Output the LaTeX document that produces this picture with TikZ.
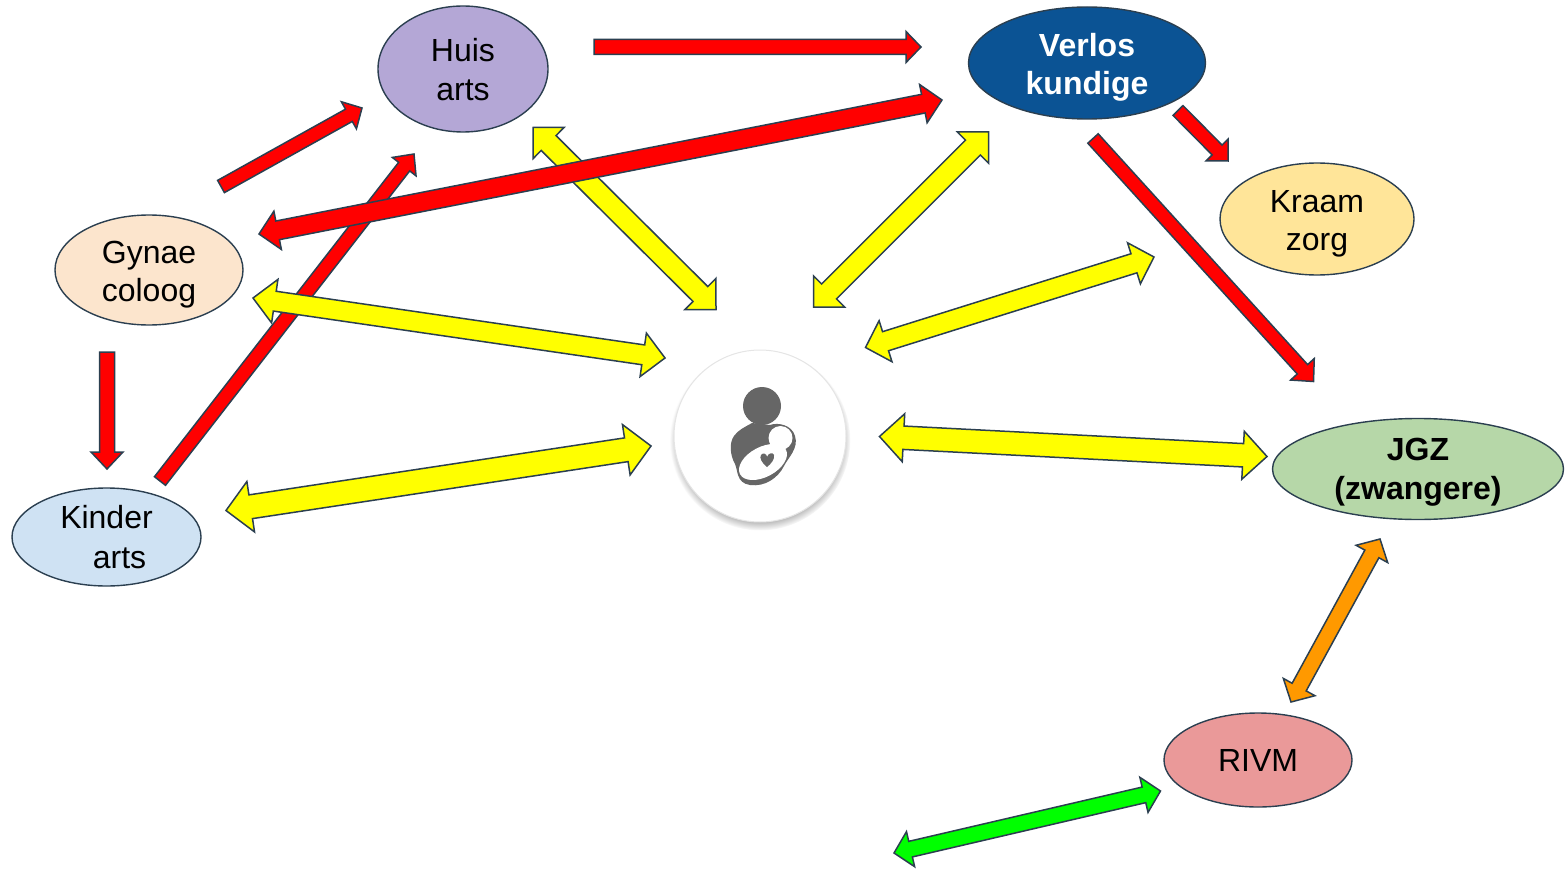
\documentclass[tikz,border=0pt]{standalone}
\usepackage{fontspec}
\setmainfont{Liberation Sans}
\usetikzlibrary{calc,shapes.geometric,shadows}

\definecolor{edgeblue}{HTML}{2B3F50}
\definecolor{huisfill}{HTML}{B4A7D6}
\definecolor{verlosfill}{HTML}{0B5394}
\definecolor{kraamfill}{HTML}{FFE599}
\definecolor{gynaefill}{HTML}{FCE5CD}
\definecolor{kinderfill}{HTML}{CFE2F3}
\definecolor{jgzfill}{HTML}{B6D7A8}
\definecolor{rivmfill}{HTML}{EA9999}
\definecolor{iconfill}{HTML}{666666}
\definecolor{arrowred}{HTML}{FF0000}
\definecolor{arrowyellow}{HTML}{FFFF00}
\definecolor{arrowgreen}{HTML}{00FF00}
\definecolor{arroworange}{HTML}{FF9900}

% colour, tail, tip, half shaft, half head, head length
\newcommand{\singlearrow}[6]{
	\coordinate (hb) at ($(#3)!#6pt!(#2)$);
	\draw[block, fill=#1] ($(#2)!#4pt!90:(#3)$) -- ($(hb)!#4pt!90:(#3)$) -- ($(hb)!#5pt!90:(#3)$) -- (#3)
		-- ($(hb)!#5pt!-90:(#3)$) -- ($(hb)!#4pt!-90:(#3)$) -- ($(#2)!#4pt!-90:(#3)$) -- cycle;
}
\newcommand{\doublearrow}[6]{
	\coordinate (hb) at ($(#3)!#6pt!(#2)$);
	\coordinate (ha) at ($(#2)!#6pt!(#3)$);
	\draw[block, fill=#1] (#2) -- ($(ha)!#5pt!90:(#3)$) -- ($(ha)!#4pt!90:(#3)$) -- ($(hb)!#4pt!90:(#3)$)
		-- ($(hb)!#5pt!90:(#3)$) -- (#3) -- ($(hb)!#5pt!-90:(#3)$) -- ($(hb)!#4pt!-90:(#3)$)
		-- ($(ha)!#4pt!-90:(#3)$) -- ($(ha)!#5pt!-90:(#3)$) -- cycle;
}

\begin{document}
\begin{tikzpicture}
	[x=1pt, y=-1pt,
	care/.style ={ellipse, draw=edgeblue, line width=1.4pt, align=center, inner sep=0pt, font=\fontsize{32}{38}\selectfont},
	block/.style ={draw=edgeblue, line width=1.5pt, line join=miter},
	icon/.style ={fill=iconfill, draw=none}]
	\useasboundingbox (0, 0) rectangle (1568, 869);

	\draw (463, 69) node[care, fill=huisfill, minimum width=170pt, minimum height=126pt] (huis) {\rule{0pt}{25pt}Huis\\[1pt]arts};
	\draw (1087, 63) node[care, fill=verlosfill, minimum width=237pt, minimum height=112pt, text=white, font=\fontsize{32}{38}\selectfont\bfseries] (verlos) {\rule{0pt}{31pt}Verlos\\kundige};
	\draw (1317, 219) node[care, fill=kraamfill, minimum width=194pt, minimum height=112pt] (kraam) {\rule{0pt}{31pt}Kraam\\zorg};
	\draw (149, 270) node[care, fill=gynaefill, minimum width=188pt, minimum height=110pt] (gynae) {\rule{0pt}{31pt}Gynae\\coloog};
	\draw (106.5, 537) node[care, fill=kinderfill, minimum width=189pt, minimum height=98pt] (kinder) {Kinder\\[2pt]\hspace*{26pt}arts};
	\draw (1418, 469) node[care, fill=jgzfill, minimum width=291pt, minimum height=101pt, font=\fontsize{32}{38}\selectfont\bfseries] (jgz) {JGZ\\[1pt]\raisebox{0pt}[\height][0pt]{(zwangere)}};
	\draw (1258, 760) node[care, fill=rivmfill, minimum width=188pt, minimum height=94pt] (rivm) {RIVM};

	\draw (760, 436) node[circle, draw=black!10, line width=1pt, fill=white, minimum size=172pt, inner sep=0pt, circular drop shadow={shadow xshift=0pt, shadow yshift=-4pt, shadow scale=1.05, opacity=.8}] (zwangere) {};
	\fill[icon] (762, 406) circle (19);
	\fill[icon] (752, 423) .. controls (745, 427) and (738, 430) .. (734, 436)
		.. controls (729, 443) and (730, 455) .. (735, 464)
		.. controls (738, 470) and (736, 483) .. (750, 485)
		.. controls (765, 487) and (778, 478) .. (784, 466)
		.. controls (788, 458) and (799, 448) .. (795, 436)
		.. controls (792, 425) and (778, 422) .. (770, 425) -- cycle;
	\fill[white] (763, 462) ellipse [x radius=26, y radius=15, rotate=28];
	\fill[white] (780.5, 438) circle (12);
	\fill[icon] (767, 467) .. controls (762, 463) and (759, 458) .. (761, 455)
		.. controls (763, 452) and (767, 454) .. (767, 457)
		.. controls (768, 453) and (773, 452) .. (774, 455)
		.. controls (775, 459) and (771, 464) .. (767, 467) -- cycle;

	\coordinate (gh1) at (221, 186.5);
	\coordinate (gh2) at (362, 108);
	\coordinate (kh1) at (160, 481);
	\coordinate (kh2) at (414, 154);
	\coordinate (hv1) at (594, 47);
	\coordinate (hv2) at (921, 47);
	\coordinate (gv1) at (259, 234);
	\coordinate (gv2) at (942, 100);
	\coordinate (vk1) at (1178, 110.5);
	\coordinate (vk2) at (1228, 161);
	\coordinate (vj1) at (1093, 138.5);
	\coordinate (vj2) at (1313.5, 381.5);
	\coordinate (gk1) at (107, 352);
	\coordinate (gk2) at (107, 469);
	\coordinate (hz1) at (533, 127.5);
	\coordinate (hz2) at (716, 309.5);
	\coordinate (vz1) at (988.5, 132);
	\coordinate (vz2) at (813.5, 307);
	\coordinate (gz1) at (253, 298);
	\coordinate (gz2) at (665, 358);
	\coordinate (kz1) at (226, 510.5);
	\coordinate (kz2) at (651, 446);
	\coordinate (zk1) at (865.5, 347.5);
	\coordinate (zk2) at (1154, 257);
	\coordinate (zj1) at (879.5, 436.5);
	\coordinate (zj2) at (1267, 456.5);
	\coordinate (rj1) at (1291, 702);
	\coordinate (rj2) at (1380, 539);
	\coordinate (gr1) at (894, 853);
	\coordinate (gr2) at (1160.5, 791);

	\singlearrow{arrowred}{gh1}{gh2}{7}{15.5}{15}
	\singlearrow{arrowred}{kh1}{kh2}{7}{15}{16}
	\singlearrow{arrowred}{hv1}{hv2}{7.5}{15.5}{15}
	\singlearrow{arrowred}{vk1}{vk2}{7}{15.5}{15.5}
	\singlearrow{arrowred}{vj1}{vj2}{7}{16}{16.5}
	\singlearrow{arrowred}{gk1}{gk2}{7.5}{16}{17}
	\doublearrow{arrowyellow}{hz1}{hz2}{10.5}{22}{22}
	\doublearrow{arrowred}{gv1}{gv2}{9.5}{19.5}{19}
	\doublearrow{arrowyellow}{vz1}{vz2}{10.5}{22}{22}
	\doublearrow{arrowyellow}{gz1}{gz2}{10}{22}{22}
	\doublearrow{arrowyellow}{kz1}{kz2}{12}{25.5}{25}
	\doublearrow{arrowyellow}{zk1}{zk2}{10}{21.5}{21}
	\doublearrow{arrowyellow}{zj1}{zj2}{11.7}{24}{24}
	\doublearrow{arroworange}{rj1}{rj2}{8}{18}{17}
	\doublearrow{arrowgreen}{gr1}{gr2}{8}{18}{17}
\end{tikzpicture}
\end{document}
